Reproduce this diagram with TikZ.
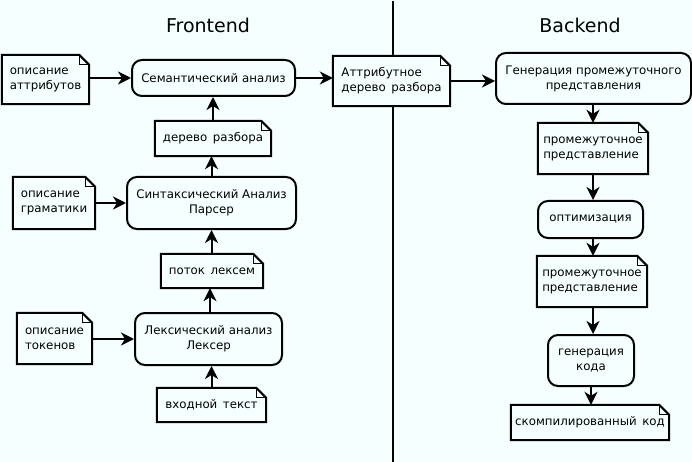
\documentclass[tikz,border=0pt]{standalone}
\usepackage{fontspec}
\setmainfont{DejaVu Sans}
\usetikzlibrary{arrows.meta}
\definecolor{bg}{RGB}{245,255,255}
\newcommand{\wsp}{\hspace{5.5pt}}
\begin{document}
\begin{tikzpicture}[x=1pt,y=-1pt,
  txt/.style={font=\fontsize{11.8}{15}\selectfont},
  box/.style={txt, draw, line width=2pt, rounded corners=10pt, align=center, inner sep=0pt},
  notebox/.style={txt, inner sep=0pt, align=left,
    append after command={\pgfextra{
      \draw[line width=2pt, line join=miter] (\tikzlastnode.south west) -- (\tikzlastnode.north west)
        -- ([xshift=-10pt]\tikzlastnode.north east) -- ([yshift=-10pt]\tikzlastnode.north east)
        -- (\tikzlastnode.south east) -- cycle;
      \draw[line width=0.8pt] ([xshift=-10pt]\tikzlastnode.north east) |- ([yshift=-10pt]\tikzlastnode.north east);
    }}},
  arr/.style={-{Stealth[length=13pt,width=13pt,inset=4pt]}, line width=2pt},
  title/.style={font=\fontsize{19}{22}\selectfont}
]
\fill[bg] (0,0) rectangle (692,462);
\useasboundingbox (0,0) rectangle (692,462);

\node[title] (tf) at (208,25) {Frontend};
\node[title] (tb) at (580,25) {Backend};
\coordinate (ltop) at (393,1);
\coordinate (lbot) at (393,462);

% frontend
\node[notebox, minimum width=87pt, minimum height=49pt] (attrdesc) at (45.5,79.5) {описание\\аттрибутов};
\node[box, minimum width=163pt, minimum height=36pt] (sem) at (213.5,78) {Семантический анализ};
\node[notebox, minimum width=116pt, minimum height=35pt] (tree) at (213,138.5) {дерево\wsp разбора};
\node[notebox, minimum width=82pt, minimum height=52pt] (gramdesc) at (54,203) {описание\\граматики};
\node[box, minimum width=169pt, minimum height=52pt] (syn) at (211.5,203) {Синтаксический Анализ\\Парсер};
\node[notebox, minimum width=102pt, minimum height=34pt] (stream) at (212,271) {поток\wsp лексем};
\node[notebox, minimum width=75pt, minimum height=51pt] (lexdesc) at (54.5,338.5) {описание\\токенов};
\node[box, minimum width=147pt, minimum height=52pt] (lex) at (208.5,339) {Лексический анализ\\Лексер};
\node[notebox, minimum width=109pt, minimum height=34pt] (input) at (211.5,405) {входной\wsp текст};

% middle
\node[notebox, minimum width=117pt, minimum height=50pt] (attrtree) at (391.5,81) {Аттрибутное\\дерево\wsp разбора};
\draw[line width=2pt] (ltop) -- (attrtree.north -| ltop);
\draw[line width=2pt] (attrtree.south -| ltop) -- (lbot);

% backend
\node[box, minimum width=195pt, minimum height=51pt] (gen) at (593.5,78.5) {Генерация промежуточного\\представления};
\node[notebox, minimum width=110pt, minimum height=51pt] (ir1) at (593,148.5) {промежуточное\\представление};
\node[box, minimum width=105pt, minimum height=37pt] (opt) at (590.5,219.5) {оптимизация};
\node[notebox, minimum width=110pt, minimum height=51pt] (ir2) at (592,281.5) {промежуточное\\представление};
\node[box, minimum width=86pt, minimum height=51pt] (cg) at (591,360.5) {генерация\\кода};
\node[notebox, minimum width=158pt, minimum height=35pt] (out) at (590,422.5) {скомпилированный\wsp код};

% connectors
\draw[arr] (attrdesc.east |- sem.west) -- (sem.west);
\draw[arr] (tree.north) -- (sem.south -| tree.north);
\draw[arr] (syn.north -| 211.5,0) -- (tree.south -| 211.5,0);
\draw[arr] (gramdesc.east |- syn.west) -- (syn.west);
\draw[arr] (stream.north -| syn.north) -- (syn.south);
\draw[arr] (lex.north -| 210,0) -- (stream.south -| 210,0);
\draw[arr] (lexdesc.east |- lex.west) -- (lex.west);
\draw[arr] (input.north -| input.north) -- (lex.south -| input.north);
\draw[arr] (sem.east) -- (attrtree.west |- sem.east);
\draw[arr] (attrtree.east) -- (gen.west |- attrtree.east);
\draw[arr] (gen.south -| ir1.north) -- (ir1.north);
\draw[arr] (ir1.south) -- (opt.north -| ir1.south);
\draw[arr] (opt.south -| ir1.south) -- (ir2.north -| ir1.south);
\draw[arr] (ir2.south -| ir1.south) -- (cg.north -| ir1.south);
\draw[arr] (cg.south) -- (out.north -| cg.south);
\end{tikzpicture}
\end{document}
